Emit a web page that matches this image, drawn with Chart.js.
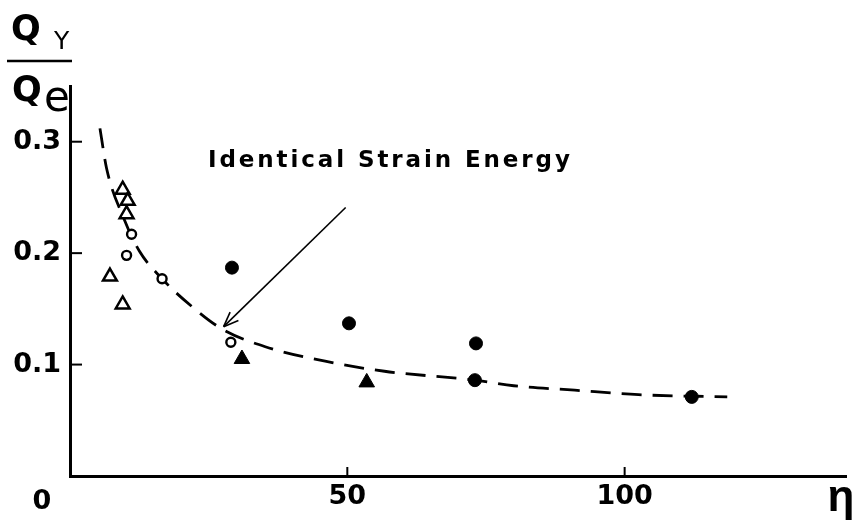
<!DOCTYPE html>
<html>
<head>
<meta charset="utf-8">
<script src="https://cdn.jsdelivr.net/npm/chart.js@4.4.1/dist/chart.umd.min.js"></script>
<style>
  html, body { margin: 0; padding: 0; background: #fff; }
</style>
</head>
<body>
<canvas id="chart" width="857" height="524"></canvas>
<script>
// ─── Data ────────────────────────────────────────────
const OPEN_TRI_X = [9.5, 10.4, 10.2, 7.2, 9.5];
const OPEN_TRI_Y = [0.257, 0.247, 0.235, 0.179, 0.154];
const OPEN_CIR_X = [11.1, 10.2, 16.6, 29.0];
const OPEN_CIR_Y = [0.217, 0.198, 0.177, 0.120];
const FILL_CIR_X = [29.2, 50.3, 73.2, 73.0, 112.1];
const FILL_CIR_Y = [0.187, 0.137, 0.119, 0.086, 0.071];
const FILL_TRI_X = [31.0, 53.5];
const FILL_TRI_Y = [0.105, 0.084];
const CURVE_X = [5.4, 6.6, 9.8, 12.5, 16.6, 22, 27.4, 35.2, 46, 56.7, 73, 80, 91, 102.5, 118.5];
const CURVE_Y = [0.312, 0.276, 0.230, 0.202, 0.177, 0.152, 0.132, 0.116, 0.103, 0.094, 0.086, 0.081, 0.077, 0.073, 0.071];
const ARROW_X = [49.7, 27.7];
const ARROW_Y = [0.241, 0.134];
const X_TICKS = [0, 50, 100];
const Y_TICKS = [0, 0.1, 0.2, 0.3];
const NOTE = 'Identical Strain Energy';

const pts = (xs, ys) => xs.map((x, i) => ({ x, y: ys[i] }));
const FONT = '"DejaVu Sans", sans-serif';
const FONT_L = '"Liberation Sans", Arial, sans-serif';

// ─── Extras: inward ticks, arrow head, labels ────────
const decor = {
  id: 'decor',
  afterDraw(chart) {
    const { ctx, scales: { x, y } } = chart;
    ctx.save();
    ctx.strokeStyle = '#000';
    ctx.fillStyle = '#000';
    ctx.lineWidth = 2;

    X_TICKS.filter(v => v > 0).forEach(v => {
      const px = x.getPixelForValue(v);
      ctx.beginPath(); ctx.moveTo(px, y.bottom); ctx.lineTo(px, y.bottom - 9); ctx.stroke();
    });
    Y_TICKS.filter(v => v > 0).forEach(v => {
      const py = y.getPixelForValue(v);
      ctx.beginPath(); ctx.moveTo(x.left, py); ctx.lineTo(x.left + 12, py); ctx.stroke();
    });

    // arrow head
    const a = chart.getDatasetMeta(5).data;
    const ang = Math.atan2(a[1].y - a[0].y, a[1].x - a[0].x);
    ctx.lineWidth = 1.6;
    [-0.38, 0.38].forEach(d => {
      ctx.beginPath();
      ctx.moveTo(a[1].x, a[1].y);
      ctx.lineTo(a[1].x - 16 * Math.cos(ang + d), a[1].y - 16 * Math.sin(ang + d));
      ctx.stroke();
    });

    // annotation
    ctx.font = 'bold 23px ' + FONT;
    ctx.letterSpacing = '2.9px';
    ctx.textAlign = 'left';
    ctx.textBaseline = 'alphabetic';
    ctx.fillText(NOTE, 208, 167);
    ctx.letterSpacing = '0px';

    // origin and axis symbol
    ctx.font = 'bold 27px ' + FONT;
    ctx.textAlign = 'center';
    ctx.fillText('0', 42, 509);
    ctx.font = 'bold 44px ' + FONT_L;
    ctx.fillText('η', 841, 511);

    // Q_Y / Q_e
    ctx.textAlign = 'left';
    ctx.font = 'bold 35px ' + FONT;
    ctx.fillText('Q', 11, 40);
    ctx.fillText('Q', 12, 101);
    ctx.font = '25px ' + FONT;
    ctx.fillText('Y', 54, 49);
    ctx.font = '42px ' + FONT;
    ctx.fillText('e', 44, 111);
    ctx.lineWidth = 2.5;
    ctx.beginPath(); ctx.moveTo(7, 61); ctx.lineTo(72, 61); ctx.stroke();
    ctx.restore();
  }
};

new Chart(document.getElementById('chart'), {
  type: 'scatter',
  data: {
    datasets: [
      { data: pts(OPEN_TRI_X, OPEN_TRI_Y), pointStyle: 'triangle', pointRadius: 8,
        borderColor: '#000', backgroundColor: '#fff', borderWidth: 2.5, order: 0 },
      { data: pts(OPEN_CIR_X, OPEN_CIR_Y), pointStyle: 'circle', pointRadius: 4.5,
        borderColor: '#000', backgroundColor: '#fff', borderWidth: 2.4, order: 0 },
      { data: pts(FILL_CIR_X, FILL_CIR_Y), pointStyle: 'circle', pointRadius: 6.5,
        borderColor: '#000', backgroundColor: '#000', borderWidth: 1, order: 0 },
      { data: pts(FILL_TRI_X, FILL_TRI_Y), pointStyle: 'triangle', pointRadius: 9,
        borderColor: '#000', backgroundColor: '#000', borderWidth: 1, order: 0 },
      { data: pts(CURVE_X, CURVE_Y), showLine: true, pointRadius: 0, borderColor: '#000',
        borderWidth: 2.8, borderDash: [20, 11], tension: 0.4, cubicInterpolationMode: 'monotone', order: 5 },
      { data: pts(ARROW_X, ARROW_Y), showLine: true, pointRadius: 0, borderColor: '#000',
        borderWidth: 1.6, order: 4 },
    ],
  },
  options: {
    responsive: false,
    animation: false,
    events: [],
    layout: { padding: { left: 0, top: 86, right: 5, bottom: 0 } },
    plugins: { legend: { display: false }, tooltip: { enabled: false } },
    scales: {
      x: {
        type: 'linear', min: 0, max: 140,
        afterBuildTicks: s => { s.ticks = X_TICKS.map(v => ({ value: v })); },
        afterFit: s => { s.height = 48; },
        grid: { display: false, drawTicks: false },
        border: { display: true, color: '#000', width: 3 },
        ticks: { color: '#000', padding: 5, maxRotation: 0,
          font: { family: FONT, size: 27, weight: 'bold' },
          callback: v => v === 0 ? '' : String(v) },
      },
      y: {
        type: 'linear', min: 0, max: 0.35,
        afterBuildTicks: s => { s.ticks = Y_TICKS.map(v => ({ value: v })); },
        afterFit: s => { s.width = 70; },
        grid: { display: false, drawTicks: false },
        border: { display: true, color: '#000', width: 3 },
        ticks: { color: '#000', padding: 9,
          font: { family: FONT, size: 27, weight: 'bold' },
          callback: v => v === 0 ? '' : v.toFixed(1) },
      },
    },
  },
  plugins: [decor],
});
</script>
</body>
</html>
